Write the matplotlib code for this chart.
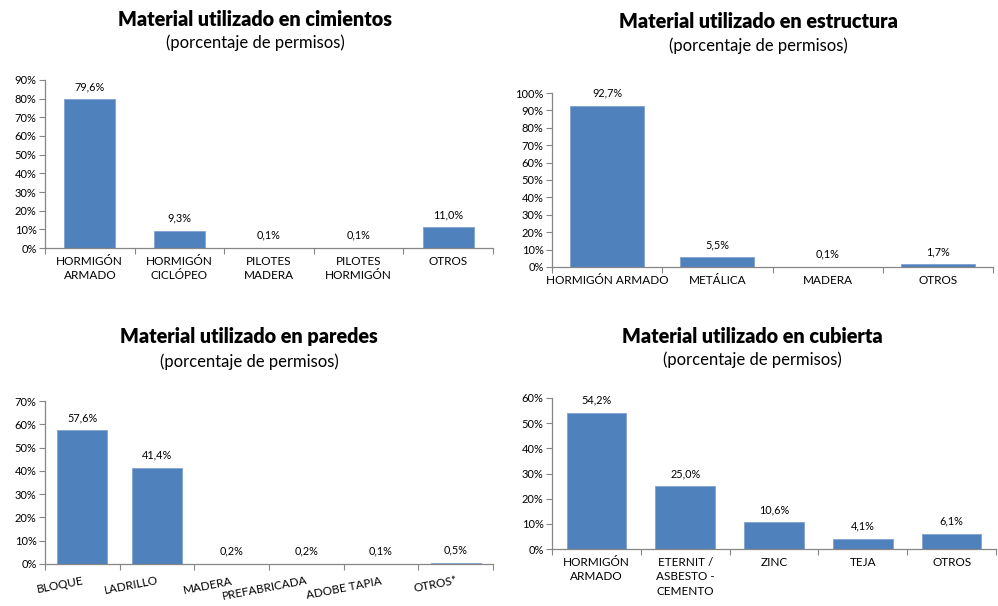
import matplotlib.pyplot as plt
from matplotlib.ticker import FuncFormatter, FixedLocator

plt.rcParams['font.family'] = ['Lato', 'DejaVu Sans']

BAR = '#4F81BD'
AXC = '#868686'

# datos (porcentaje de permisos)
cim_cats = ['HORMIGÓN\nARMADO', 'HORMIGÓN\nCICLÓPEO', 'PILOTES\nMADERA', 'PILOTES\nHORMIGÓN', 'OTROS']
cim_vals = [79.6, 9.3, 0.1, 0.1, 11.0]

est_cats = ['HORMIGÓN ARMADO', 'METÁLICA', 'MADERA', 'OTROS']
est_vals = [92.7, 5.5, 0.1, 1.7]

par_cats = ['BLOQUE', 'LADRILLO', 'MADERA', 'PREFABRICADA', 'ADOBE TAPIA', 'OTROS*']
par_vals = [57.6, 41.4, 0.2, 0.2, 0.1, 0.5]

cub_cats = ['HORMIGÓN\nARMADO', 'ETERNIT /\nASBESTO -\nCEMENTO', 'ZINC', 'TEJA', 'OTROS']
cub_vals = [54.2, 25.0, 10.6, 4.1, 6.1]

W, H = 998, 606
fig = plt.figure(figsize=(W / 100, H / 100), dpi=100)


def px_axes(left, right, top, bottom):
    return fig.add_axes([left / W, 1 - bottom / H, (right - left) / W, (bottom - top) / H])


def bar_chart(ax, cats, vals, ymax, step, width, rot=0):
    n = len(cats)
    x = list(range(n))
    ax.bar(x, vals, width=width, color=BAR, edgecolor='#7FA3D1', linewidth=0.6, zorder=2)
    ax.set_xlim(-0.5, n - 0.5)
    ax.set_ylim(0, ymax)
    ax.yaxis.set_major_locator(FixedLocator([i * step for i in range(int(round(ymax / step)) + 1)]))
    ax.yaxis.set_major_formatter(FuncFormatter(lambda v, p: f'{v:.0f}%'))
    ax.tick_params(axis='y', length=4, width=0.8, color=AXC, labelsize=8, pad=2)
    for s in ['top', 'right']:
        ax.spines[s].set_visible(False)
    for s in ['left', 'bottom']:
        ax.spines[s].set_color(AXC)
        ax.spines[s].set_linewidth(0.9)
    ax.set_xticks(x)
    if rot:
        ax.set_xticklabels(cats, rotation=rot, ha='right', rotation_mode='anchor', fontsize=8.5)
        ax.tick_params(axis='x', length=0, pad=8)
    else:
        ax.set_xticklabels(cats, fontsize=8.5, linespacing=1.35, va='top')
        ax.tick_params(axis='x', length=0, pad=6)
    ax.set_xticks([i - 0.5 for i in range(n + 1)], minor=True)
    ax.tick_params(axis='x', which='minor', length=4, width=0.8, color=AXC)
    for xi, v in zip(x, vals):
        ax.annotate(f'{v:.1f}%'.replace('.', ','), (xi, v), xytext=(0, 5), textcoords='offset points',
                    ha='center', va='bottom', fontsize=7.8)


ax1 = px_axes(45, 493, 80, 248)
bar_chart(ax1, cim_cats, cim_vals, 90, 10, 0.57)
ax2 = px_axes(552, 993, 93, 267)
bar_chart(ax2, est_cats, est_vals, 100, 10, 0.67)
ax3 = px_axes(45, 493, 401, 564)
bar_chart(ax3, par_cats, par_vals, 70, 10, 0.67, rot=11)
ax4 = px_axes(552, 996, 398, 549)
bar_chart(ax4, cub_cats, cub_vals, 60, 10, 0.67)

titles = [
    (255, 19, 43, 'Material utilizado en cimientos'),
    (758, 22, 46, 'Material utilizado en estructura'),
    (249, 337, 362, 'Material utilizado en paredes'),
    (752, 336, 360, 'Material utilizado en cubierta'),
]
for cx, ty, sy, t in titles:
    fig.text(cx / W, 1 - ty / H, t, ha='center', va='center', fontsize=14.2, fontweight='heavy')
    fig.text(cx / W, 1 - sy / H, '(porcentaje de permisos)', ha='center', va='center', fontsize=12)

fig.savefig('out.png', dpi=100)
